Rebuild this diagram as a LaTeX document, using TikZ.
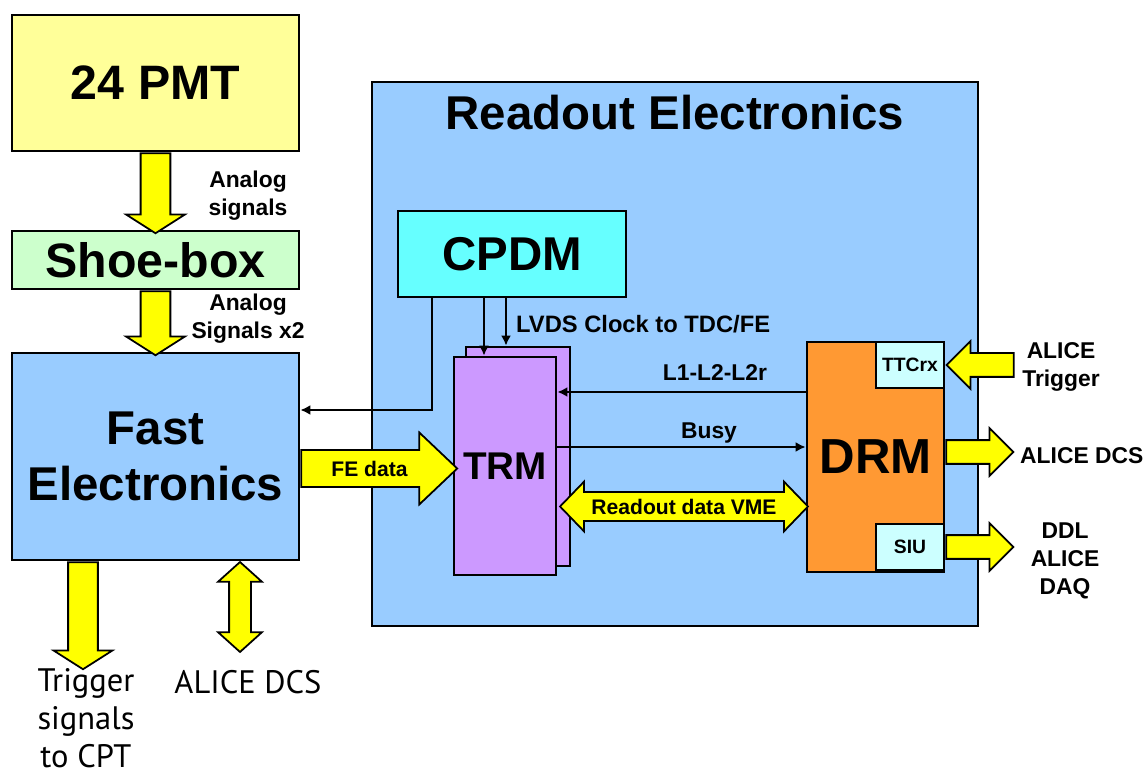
\documentclass[tikz,border=0pt]{standalone}
\usepackage{fontspec}
\setmainfont{Liberation Sans}
\newfontfamily\notefont{PT Sans}
\usetikzlibrary{calc, arrows.meta, shapes.arrows}

\definecolor{pmtcol}{HTML}{FFFF99}
\definecolor{shoecol}{HTML}{CCFFCC}
\definecolor{elcol}{HTML}{99CCFF}
\definecolor{cpdmcol}{HTML}{66FFFF}
\definecolor{trmcol}{HTML}{CC99FF}
\definecolor{drmcol}{HTML}{FF9933}
\definecolor{subcol}{HTML}{CCFFFF}
\definecolor{fatcol}{HTML}{FFFF00}

\tikzset{
	block/.style={draw, line width=1.6pt, inner sep=0pt, font=\bfseries},
	sig/.style={line width=1.1pt, -{Latex[length=2mm,width=2mm]}},
	lbl/.style={font=\bfseries\fontsize{13}{16}\selectfont, align=center},
	note/.style={font=\notefont\fontsize{18.5}{21.5}\selectfont, align=center},
	fat/.style={single arrow, draw, fill=fatcol, line width=1pt, inner xsep=0pt, minimum width=0pt},
	fatboth/.style={double arrow, draw, fill=fatcol, line width=1pt, inner xsep=0pt, minimum width=0pt},
	downfat/.style={fat, rotate=-90, inner ysep=0.28cm, single arrow head extend=0.29cm, single arrow tip angle=115},
	outfat/.style={fat, inner ysep=0.22cm, single arrow head extend=0.24cm, single arrow tip angle=90, minimum height=1.34cm},
}

\begin{document}
\begin{tikzpicture}[x=0.02cm, y=-0.02cm]
	\useasboundingbox (0,0) rectangle (1146,776);

	% left chain
	\node[block, fill=pmtcol, minimum width=5.74cm, minimum height=2.72cm, font=\bfseries\fontsize{27.5}{30}\selectfont] (pmt) at (155.5,83) {24 PMT};
	\node[block, fill=shoecol, minimum width=5.74cm, minimum height=1.16cm, font=\bfseries\fontsize{27.5}{30}\selectfont] (shoe) at (155.5,260) {Shoe-box};
	\node[block, fill=elcol, minimum width=5.74cm, minimum height=4.14cm, align=center, font=\bfseries\fontsize{27}{32}\selectfont] (fast) at (155.5,456.5) {Fast\\Electronics};

	% readout crate
	\node[block, fill=elcol, minimum width=12.12cm, minimum height=10.88cm] (readout) at (675,354) {};
	\node[font=\bfseries\fontsize{27}{30}\selectfont, anchor=base] (title) at (675,130) {Readout Electronics};
	\node[block, fill=cpdmcol, minimum width=4.56cm, minimum height=1.72cm, font=\bfseries\fontsize{27}{30}\selectfont] (cpdm) at (512,254) {CPDM};
	\node[block, fill=trmcol, minimum width=2.08cm, minimum height=4.38cm] (trmb) at (518,456.5) {};
	\node[block, fill=trmcol, minimum width=2.04cm, minimum height=4.36cm, font=\bfseries\fontsize{22}{26}\selectfont] (trmf) at (505,466) {TRM};
	\node[block, fill=drmcol, minimum width=2.74cm, minimum height=4.6cm, font=\bfseries\fontsize{28}{32}\selectfont] (drm) at (875.5,457) {DRM};
	\node[block, fill=subcol, minimum width=1.36cm, minimum height=0.92cm, font=\bfseries\fontsize{11}{13}\selectfont] (ttcrx) at (910,365) {TTCrx};
	\node[block, fill=subcol, minimum width=1.36cm, minimum height=0.92cm, font=\bfseries\fontsize{11}{13}\selectfont] (siu) at (910,547) {SIU};

	% fat arrows
	\node[downfat, minimum height=1.6cm, anchor=tail] (a1) at (pmt.south) {};
	\node[downfat, minimum height=1.28cm, anchor=tail] (a2) at (shoe.south) {};
	\coordinate (trgx) at (83,0);
	\node[downfat, minimum height=2.14cm, anchor=tail] (a3) at (fast.south -| trgx) {};
	\node[fatboth, rotate=90, inner ysep=0.2cm, double arrow head extend=0.22cm, double arrow tip angle=96, minimum height=1.8cm] (a4) at (240,607) {};
	\coordinate (fey) at (0,468.5);
	\node[fat, anchor=tail, minimum height=3.12cm, text height=8.6pt, text depth=0pt, inner ysep=5.7pt, single arrow head extend=0.35cm, single arrow tip angle=87, font=\bfseries\fontsize{12}{14}\selectfont] (fedata) at (fast.east |- fey) {FE data};
	\node[fatboth, minimum height=4.96cm, text height=8.6pt, text depth=0pt, inner ysep=3.4pt, double arrow head extend=0.21cm, double arrow tip angle=92, font=\bfseries\fontsize{12}{14}\selectfont] (vme) at (684,506.5) {Readout data VME};
	\node[outfat, rotate=180, anchor=tip] (trig) at (ttcrx.east) {};
	\coordinate (dcsy) at (0,452);
	\node[outfat, anchor=tail] (dcs) at (drm.east |- dcsy) {};
	\node[outfat, anchor=tail] (daq) at (siu.east) {};

	% thin signals
	\coordinate (fbk) at (432,410);
	\coordinate (clka) at (484,0);
	\coordinate (clkb) at (506,0);
	\coordinate (l1y) at (0,392);
	\coordinate (bsyy) at (0,447);
	\draw[sig] (cpdm.south -| fbk) |- (fast.east |- fbk);
	\draw[sig] (cpdm.south -| clka) -- (trmf.north -| clka);
	\draw[sig] (cpdm.south -| clkb) -- (trmb.north -| clkb);
	\draw[sig] (drm.west |- l1y) -- (trmf.east |- l1y);
	\draw[sig] (trmf.east |- bsyy) -- (drm.west |- bsyy);

	% labels
	\node[lbl] (an1) at (248,196) {Analog\\signals};
	\node[lbl] (an2) at (248,319) {Analog\\Signals x2};
	\node[lbl, anchor=base west, font=\bfseries\fontsize{13.5}{16}\selectfont] (lvds) at (510,333) {LVDS Clock to TDC/FE};
	\node[lbl, anchor=base] (l1) at (715,381) {L1-L2-L2r};
	\node[lbl, anchor=base] (busy) at (709,439) {Busy};
	\node[lbl] (alitrg) at (1061,367) {ALICE\\Trigger};
	\node[lbl, anchor=west] (alidcs) at (1014,456) {ALICE DCS};
	\node[lbl] (alidaq) at (1065,561) {DDL\\ALICE\\DAQ};
	\node[note] (cpt) at (86,718) {Trigger\\signals\\to CPT};
	\node[note, anchor=base] (dcsnote) at (248,693) {ALICE DCS};
\end{tikzpicture}
\end{document}
